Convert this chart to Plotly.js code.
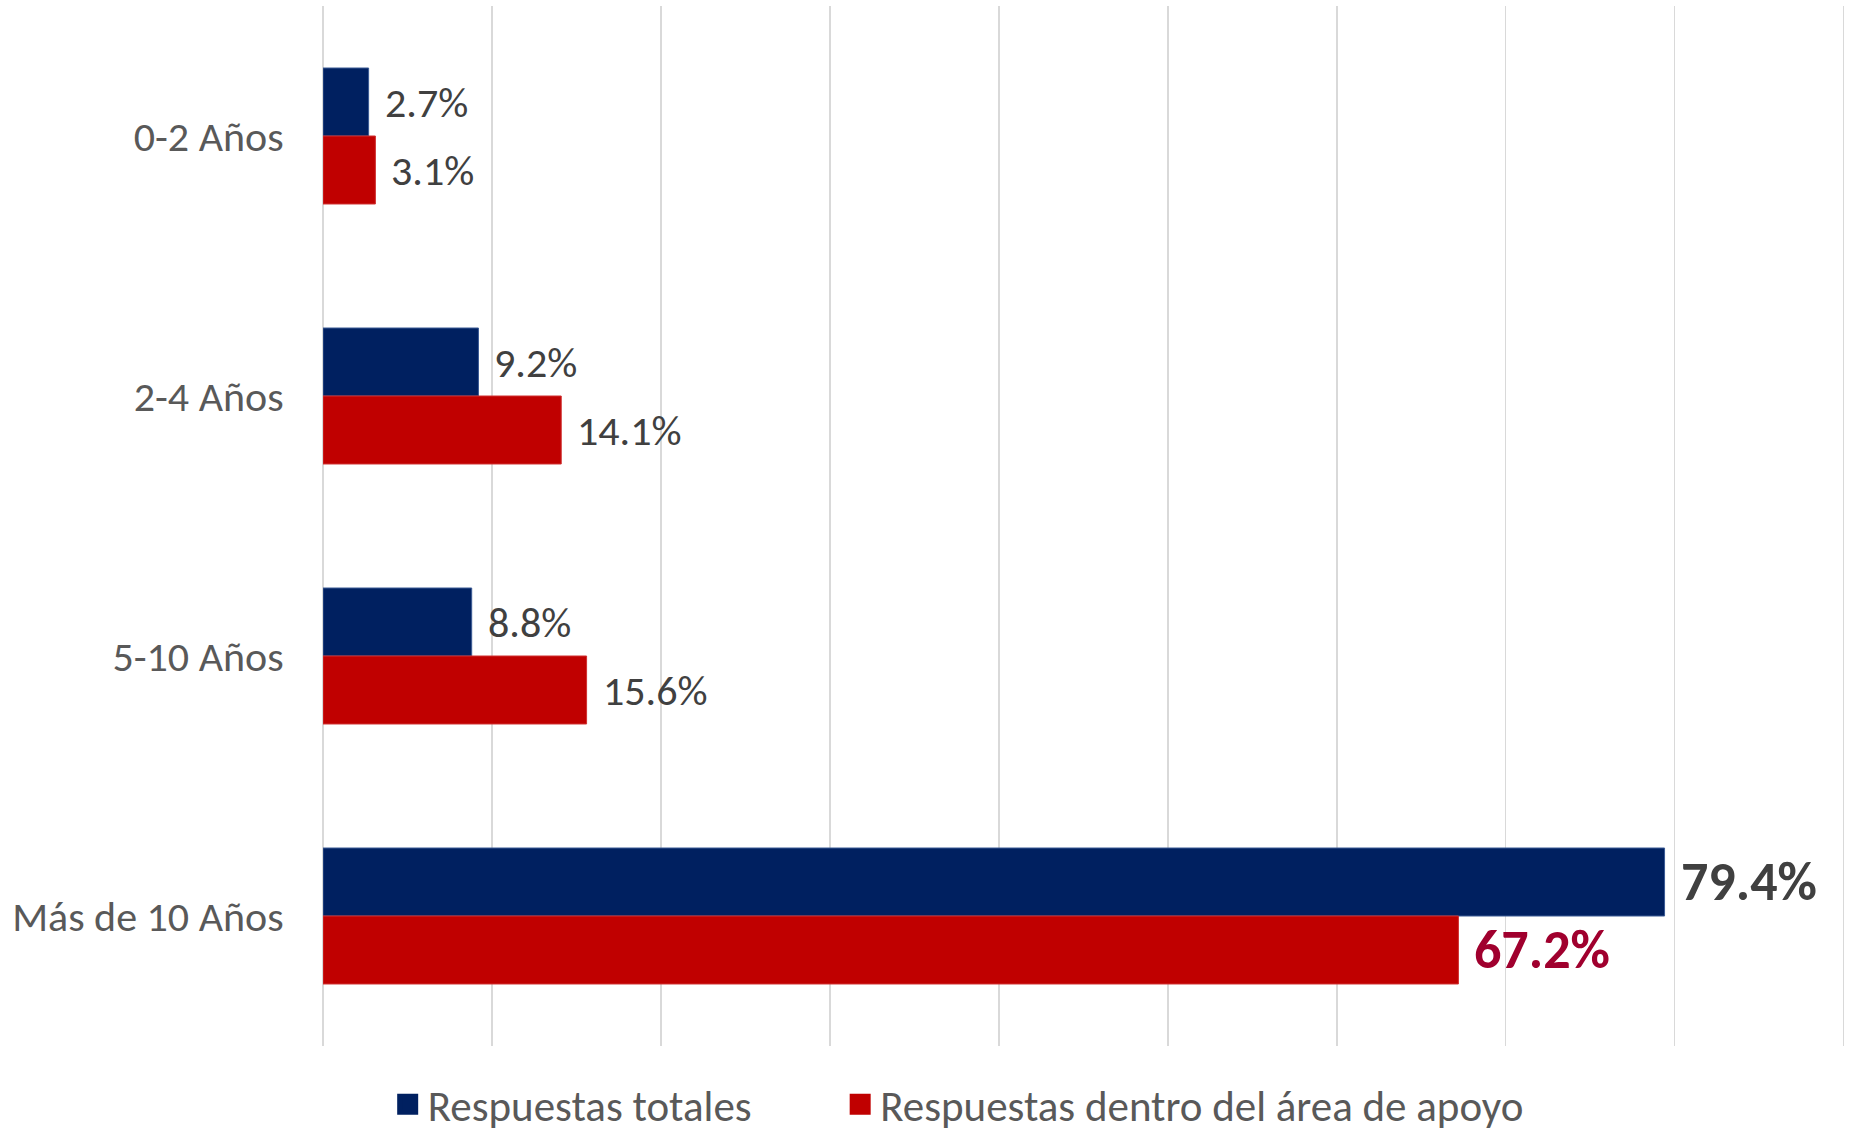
<!DOCTYPE html>
<html><head><meta charset="utf-8">
<script src="https://cdn.plot.ly/plotly-3.0.1.min.js"></script>
<style>body{margin:0;background:#fff}</style>
</head><body>
<div id="chart" style="width:1853px;height:1131px"></div>
<script>
const categories = ['0-2 Años', '2-4 Años', '5-10 Años', 'Más de 10 Años'];
const totales = [2.7, 9.2, 8.8, 79.4];
const dentro = [3.1, 14.1, 15.6, 67.2];
const seriesNames = ['Respuestas totales', 'Respuestas dentro del área de apoyo'];
const seriesColors = ['#002060', '#C00000'];

const FONT = 'Carlito, Calibri, Lato, sans-serif';
const fmt = v => v.toFixed(1) + '%';

const traces = [
  {type:'bar', orientation:'h', name:seriesNames[0], y:categories, x:totales, showlegend:false,
   marker:{color:seriesColors[0], line:{color:'#3a5a94', width:1}}, hoverinfo:'skip'},
  {type:'bar', orientation:'h', name:seriesNames[1], y:categories, x:dentro, showlegend:false,
   marker:{color:seriesColors[1], line:{color:'#d03030', width:1}}, hoverinfo:'skip'},
  // legend-only entries (no data points) to get larger square swatches
  {type:'scatter', mode:'markers', name:seriesNames[0], x:[null], y:[null], hoverinfo:'skip', legend:'legend',
   marker:{symbol:'square', size:16, color:seriesColors[0], line:{color:seriesColors[0], width:6}}},
  {type:'scatter', mode:'markers', name:seriesNames[1], x:[null], y:[null], hoverinfo:'skip', legend:'legend2',
   marker:{symbol:'square', size:16, color:seriesColors[1], line:{color:seriesColors[1], width:6}}}
];

const maxIdx = categories.length - 1;
const annotations = [];
categories.forEach((c, i) => {
  const big = i === maxIdx;
  annotations.push({x: totales[i], y: c, xref:'x', yref:'y', text: big ? '<b>'+fmt(totales[i])+'</b>' : fmt(totales[i]),
    showarrow:false, xanchor:'left', yanchor:'middle', xshift: 14, yshift: 34,
    font:{family:FONT, size: big ? 54 : 42, color:'#404040'}});
  annotations.push({x: dentro[i], y: c, xref:'x', yref:'y', text: big ? '<b>'+fmt(dentro[i])+'</b>' : fmt(dentro[i]),
    showarrow:false, xanchor:'left', yanchor:'middle', xshift: 14, yshift: -34,
    font:{family:FONT, size: big ? 54 : 42, color: big ? '#A0002E' : '#404040'}});
});

const legendBase = {orientation:'h', xanchor:'left', y:-0.056, yanchor:'middle',
  font:{family:FONT, size:43, color:'#595959'}, itemsizing:'trace', traceorder:'normal',
  bgcolor:'rgba(0,0,0,0)', borderwidth:0};

const layout = {
  width:1853, height:1131,
  margin:{l:322.6, r:8.4, t:6, b:85, autoexpand:false},
  paper_bgcolor:'#ffffff', plot_bgcolor:'#ffffff',
  barmode:'group', bargap:0.477, bargroupgap:0,
  font:{family:FONT, color:'#595959'},
  xaxis:{range:[0,90.08], dtick:10, tick0:0, showgrid:true, gridcolor:'#D9D9D9', gridwidth:1.5,
         zeroline:true, zerolinecolor:'#D9D9D9', zerolinewidth:1.5,
         showticklabels:false, showline:false, fixedrange:true},
  yaxis:{autorange:'reversed', type:'category', showgrid:false, zeroline:false, showline:false,
         ticks:'outside', ticklen:30, tickcolor:'rgba(0,0,0,0)',
         tickfont:{family:FONT, size:42, color:'#595959'}},
  legend: Object.assign({}, legendBase, {x:0.0425}),
  legend2: Object.assign({}, legendBase, {x:0.3398}),
  showlegend:true,
  annotations: annotations
};

Plotly.newPlot('chart', traces, layout, {displayModeBar:false, staticPlot:true});
</script>
</body></html>
